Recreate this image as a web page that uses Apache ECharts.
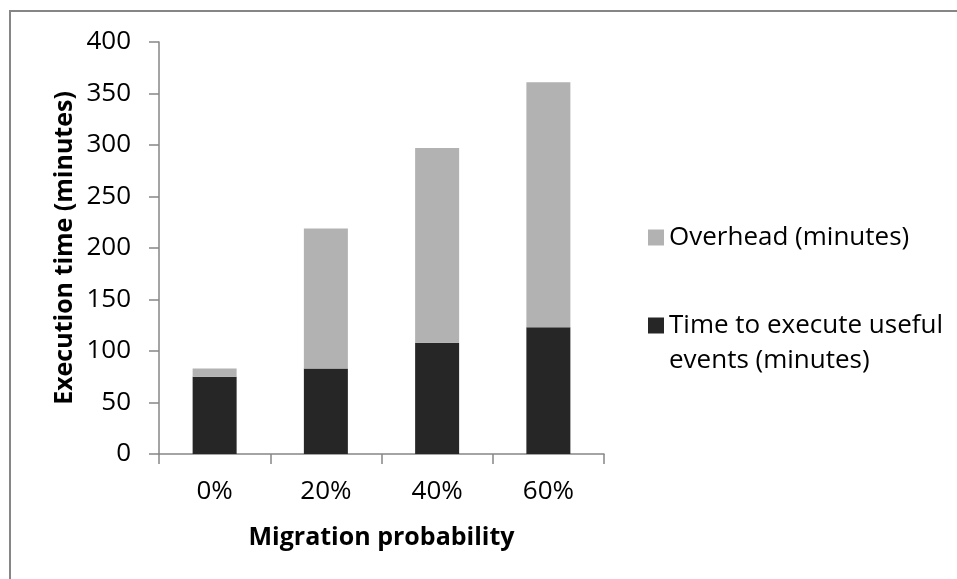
<!DOCTYPE html>
<html>
<head>
<meta charset="utf-8">
<script src="https://cdn.jsdelivr.net/npm/echarts@6/dist/echarts.min.js"></script>
<style>
html,body{margin:0;padding:0;background:#fff;}
#chart{width:957px;height:579px;}
</style>
</head>
<body>
<div id="chart"></div>
<script>
const categories = ['0%', '20%', '40%', '60%'];
const usefulTime = [75, 83, 108, 123];
const overhead = [8, 136, 189, 238];
const yTicks = { min: 0, max: 400, interval: 50 };
const usefulName = 'Time to execute useful events (minutes)';
const overheadName = 'Overhead (minutes)';

const FONT = '"Open Sans", "Noto Sans", sans-serif';
const AXIS_COLOR = '#868686';
const FS = 26;

const chart = echarts.init(document.getElementById('chart'), null, { renderer: 'canvas' });
chart.setOption({
  animation: false,
  backgroundColor: '#ffffff',
  textStyle: { fontFamily: FONT },
  graphic: [{
    type: 'rect',
    shape: { x: 10, y: 11, width: 2000, height: 2000 },
    style: { fill: 'none', stroke: AXIS_COLOR, lineWidth: 2 },
    silent: true
  }],
  grid: { left: 159, right: 353, top: 42, bottom: 125, containLabel: false },
  legend: [{
    data: [overheadName],
    orient: 'vertical',
    left: 648,
    top: 220,
    padding: 0,
    itemWidth: 16,
    itemHeight: 16,
    itemGap: 5,
    icon: 'rect',
    textStyle: { fontFamily: FONT, fontSize: FS, color: '#000', lineHeight: 35 }
  }, {
    data: [usefulName],
    orient: 'vertical',
    left: 648,
    top: 273,
    padding: 0,
    itemWidth: 16,
    itemHeight: 16,
    icon: 'rect',
    formatter: function () { return '\nTime to execute useful\nevents (minutes)'; },
    textStyle: { fontFamily: FONT, fontSize: FS, color: '#000', lineHeight: 35 }
  }],
  xAxis: {
    type: 'category',
    data: categories,
    name: 'Migration probability',
    nameLocation: 'middle',
    nameGap: 71,
    nameTextStyle: { fontFamily: FONT, fontSize: 25, fontWeight: 'bold', color: '#000' },
    axisLine: { lineStyle: { color: AXIS_COLOR, width: 1.5 } },
    axisTick: { show: true, length: 10, alignWithLabel: false, lineStyle: { color: AXIS_COLOR, width: 1.5 } },
    axisLabel: { fontFamily: FONT, fontSize: FS, color: '#000', margin: 25 },
    splitLine: { show: false }
  },
  yAxis: {
    type: 'value',
    min: yTicks.min,
    max: yTicks.max,
    interval: yTicks.interval,
    name: 'Execution time (minutes)',
    nameLocation: 'middle',
    nameGap: 82,
    nameTextStyle: { fontFamily: FONT, fontSize: 25, fontWeight: 'bold', color: '#000' },
    axisLine: { show: true, lineStyle: { color: AXIS_COLOR, width: 1.5 } },
    axisTick: { show: true, length: 10, lineStyle: { color: AXIS_COLOR, width: 1.5 } },
    axisLabel: { fontFamily: FONT, fontSize: FS, color: '#000', margin: 28 },
    splitLine: { show: false }
  },
  series: [{
    name: usefulName,
    type: 'bar',
    stack: 'total',
    data: usefulTime,
    barWidth: 44,
    itemStyle: { color: '#262626' }
  }, {
    name: overheadName,
    type: 'bar',
    stack: 'total',
    data: overhead,
    barWidth: 44,
    itemStyle: { color: '#b2b2b2' }
  }]
});
</script>
</body>
</html>
